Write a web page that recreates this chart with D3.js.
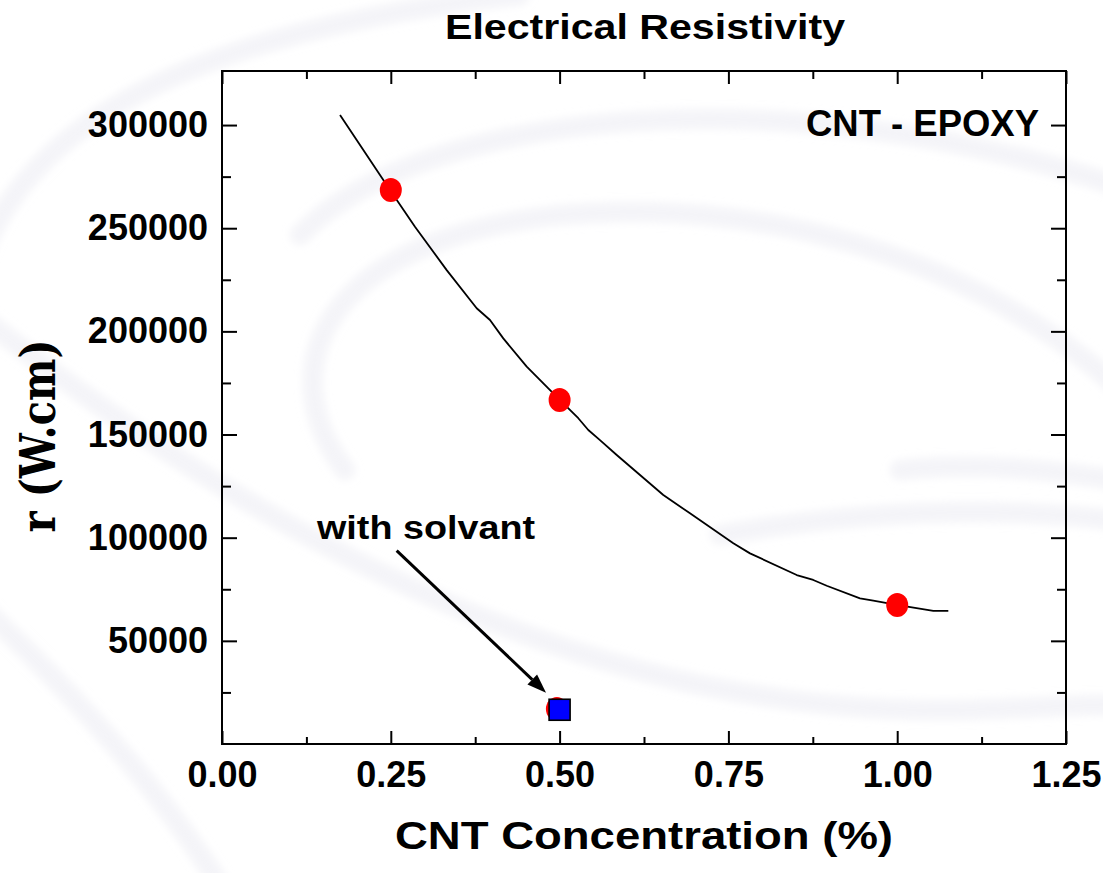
<!DOCTYPE html>
<html>
<head>
<meta charset="utf-8">
<script src="https://cdn.jsdelivr.net/npm/d3@7/dist/d3.min.js"></script>
<style>
  html, body { margin: 0; padding: 0; background: #ffffff; }
  svg { display: block; }
</style>
</head>
<body>
<div id="chart"></div>
<script>
// ---------- data ----------
const xTicksMajor = [0, 0.25, 0.5, 0.75, 1.0, 1.25];
const xTicksMinor = [0.125, 0.375, 0.625, 0.875, 1.125];
const yTicksMajor = [50000, 100000, 150000, 200000, 250000, 300000];
const yTicksMinor = [25000, 75000, 125000, 175000, 225000, 275000];

// measured CNT-epoxy points (red circles)
const epoxyX = [0.25, 0.5, 1.0];
const epoxyY = [268500, 166700, 67400];

// red point hidden behind the square
const hiddenX = [0.496];
const hiddenY = [17000];

// "with solvant" point (blue square)
const solventX = [0.5];
const solventY = [16600];

// fitted curve
const curveX = [0.1748,0.2488,0.2858,0.3328,0.3772,0.3969,0.4166,0.4513,0.5006,0.5277,0.5425,0.5598,0.5846,0.6191,0.6536,0.6931,0.7573,0.7820,0.8512,0.8757,0.8956,0.9449,0.9646,0.9993,1.0535,1.0757];
const curveY = [304900,268500,250700,229700,211200,205500,196600,182900,166700,157900,152200,147300,140100,130400,120700,111800,97300,92400,81900,79500,76700,70600,69500,67400,64500,64500];

// annotation arrow (data coords): start, tip
const arrowX = [0.2587, 0.4799];
const arrowY = [93700, 24900];

const titleText = "Electrical Resistivity";
const xLabelText = "CNT Concentration (%)";
const yLabelText = "r (W.cm)";
const seriesLabel = "CNT - EPOXY";
const noteText = "with solvant";

// ---------- layout ----------
const W = 1103, H = 873;
const L = 222, R = 1066, T = 71, B = 744;
const font = "'Liberation Sans', Arial, sans-serif";

const svg = d3.select("#chart").append("svg")
  .attr("width", W).attr("height", H);

// faint background swirls
const defs = svg.append("defs");
defs.append("filter").attr("id", "blur")
  .append("feGaussianBlur").attr("stdDeviation", 4);
const swirls = [
  "M -20,260 C 30,120 200,30 520,-5",
  "M 300,235 C 420,110 780,75 1115,185",
  "M 345,470 C 270,370 320,240 560,215 C 800,195 1000,280 1115,385",
  "M -15,320 C 150,450 400,620 700,685 C 900,725 1000,705 1115,705",
  "M -15,610 C 80,700 160,790 220,885",
  "M 720,535 C 850,512 980,505 1115,520",
  "M 900,470 C 980,462 1050,470 1115,480"
];
svg.append("g").attr("filter", "url(#blur)")
  .selectAll("path").data(swirls).join("path")
  .attr("d", d => d)
  .attr("fill", "none")
  .attr("stroke", "#e6e6ef")
  .attr("stroke-opacity", 0.45)
  .attr("stroke-width", 20)
  .attr("stroke-linecap", "round");

// ---------- scales ----------
const x = d3.scaleLinear().domain([0, 1.25]).range([L, R]);
const y = d3.scaleLinear().domain([0, 326200]).range([B, T]);

// ---------- axes ----------
function styleAxis(g) {
  g.select(".domain").remove();
  g.selectAll(".tick line").attr("stroke", "#000").attr("stroke-width", 2);
  g.selectAll(".tick text").attr("fill", "#000")
    .attr("font-family", font).attr("font-weight", "bold").attr("font-size", 36);
}
// bottom
svg.append("g").attr("transform", `translate(0,${B})`)
  .call(d3.axisBottom(x).tickValues(xTicksMajor).tickSize(-13).tickPadding(17)
    .tickFormat(d3.format(".2f")))
  .call(styleAxis);
svg.append("g").attr("transform", `translate(0,${B})`)
  .call(d3.axisBottom(x).tickValues(xTicksMinor).tickSize(-7).tickFormat(""))
  .call(styleAxis);
// top
svg.append("g").attr("transform", `translate(0,${T})`)
  .call(d3.axisTop(x).tickValues(xTicksMajor).tickSize(-13).tickFormat(""))
  .call(styleAxis);
svg.append("g").attr("transform", `translate(0,${T})`)
  .call(d3.axisTop(x).tickValues(xTicksMinor).tickSize(-8).tickFormat(""))
  .call(styleAxis);
// left
svg.append("g").attr("transform", `translate(${L},0)`)
  .call(d3.axisLeft(y).tickValues(yTicksMajor).tickSize(-15).tickPadding(14)
    .tickFormat(d3.format("d")))
  .call(styleAxis);
svg.append("g").attr("transform", `translate(${L},0)`)
  .call(d3.axisLeft(y).tickValues(yTicksMinor).tickSize(-9).tickFormat(""))
  .call(styleAxis);
// right
svg.append("g").attr("transform", `translate(${R},0)`)
  .call(d3.axisRight(y).tickValues(yTicksMajor).tickSize(-15).tickFormat(""))
  .call(styleAxis);
svg.append("g").attr("transform", `translate(${R},0)`)
  .call(d3.axisRight(y).tickValues(yTicksMinor).tickSize(-9).tickFormat(""))
  .call(styleAxis);

// frame
svg.append("rect").attr("x", L).attr("y", T).attr("width", R - L).attr("height", B - T)
  .attr("fill", "none").attr("stroke", "#000").attr("stroke-width", 2);

// ---------- curve ----------
const curveData = curveX.map((v, i) => [v, curveY[i]]);
svg.append("path").datum(curveData)
  .attr("d", d3.line().x(d => x(d[0])).y(d => y(d[1])))
  .attr("fill", "none").attr("stroke", "#000").attr("stroke-width", 1.8)
  .attr("stroke-linejoin", "round");

// ---------- points ----------
const redData = epoxyX.map((v, i) => [v, epoxyY[i]])
  .concat(hiddenX.map((v, i) => [v, hiddenY[i]]));
svg.append("g").selectAll("ellipse").data(redData).join("ellipse")
  .attr("cx", d => x(d[0])).attr("cy", d => y(d[1]))
  .attr("rx", 11).attr("ry", 12)
  .attr("fill", "#ff0000");

const sq = 21;
svg.append("g").selectAll("rect").data(solventX.map((v, i) => [v, solventY[i]])).join("rect")
  .attr("x", d => x(d[0]) - sq / 2).attr("y", d => y(d[1]) - sq / 2)
  .attr("width", sq).attr("height", sq)
  .attr("fill", "#0000ff").attr("stroke", "#000").attr("stroke-width", 1.6);

// ---------- arrow ----------
const ax0 = x(arrowX[0]), ay0 = y(arrowY[0]), ax1 = x(arrowX[1]), ay1 = y(arrowY[1]);
const ang = Math.atan2(ay1 - ay0, ax1 - ax0);
const headLen = 19, headHalf = 7;
const bx = ax1 - headLen * Math.cos(ang), by = ay1 - headLen * Math.sin(ang);
svg.append("line")
  .attr("x1", ax0).attr("y1", ay0).attr("x2", bx).attr("y2", by)
  .attr("stroke", "#000").attr("stroke-width", 3);
svg.append("polygon")
  .attr("points", [
    [ax1, ay1],
    [bx + headHalf * Math.sin(ang), by - headHalf * Math.cos(ang)],
    [bx - headHalf * Math.sin(ang), by + headHalf * Math.cos(ang)]
  ].map(p => p.join(",")).join(" "))
  .attr("fill", "#000");

// ---------- texts ----------
function label(txt, px, py, size, len, anchor) {
  return svg.append("text").text(txt)
    .attr("x", px).attr("y", py)
    .attr("font-family", font).attr("font-weight", "bold").attr("font-size", size)
    .attr("text-anchor", anchor || "start")
    .attr("textLength", len).attr("lengthAdjust", "spacingAndGlyphs")
    .attr("fill", "#000");
}
label(titleText, 645, 39, 35, 400, "middle");
label(xLabelText, 644, 849, 39, 498, "middle");
label(seriesLabel, 806, 136, 36, 233, "start");
label(noteText, 317, 539, 34, 218, "start");

svg.append("text").text(yLabelText)
  .attr("transform", "translate(55,436) rotate(-90)")
  .attr("text-anchor", "middle")
  .attr("font-family", "'DejaVu Serif', serif").attr("font-weight", "bold")
  .attr("font-size", 48)
  .attr("textLength", 193).attr("lengthAdjust", "spacingAndGlyphs")
  .attr("fill", "#000");
</script>
</body>
</html>
